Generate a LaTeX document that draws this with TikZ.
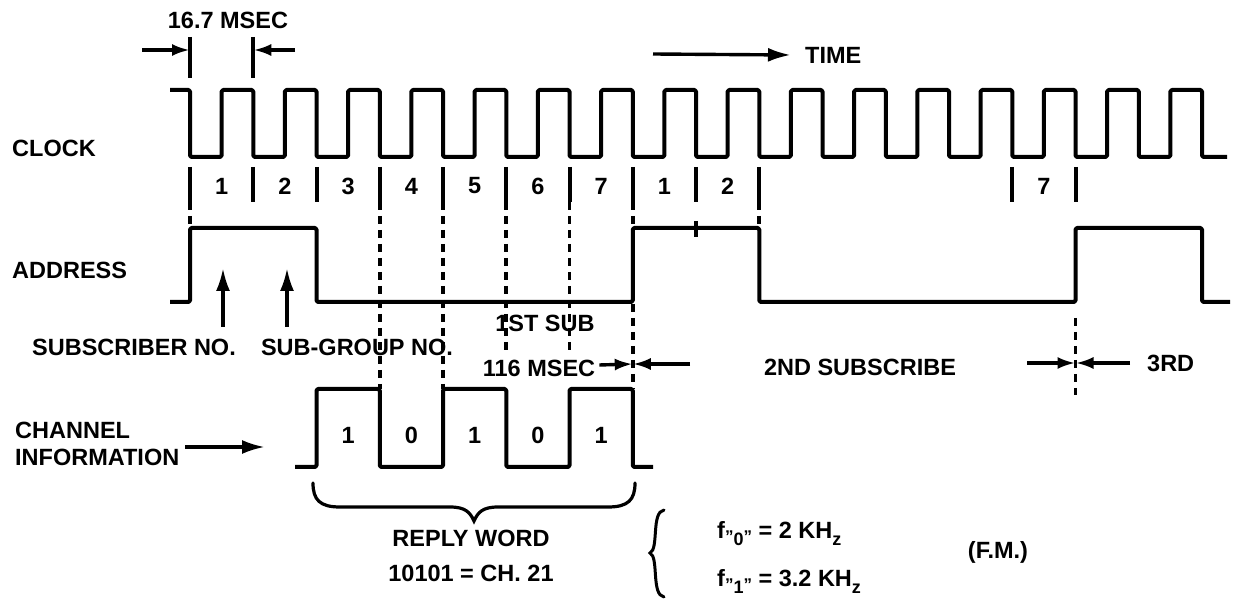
\documentclass[tikz,border=0pt]{standalone}
\usepackage{fontspec}
\setmainfont{Liberation Sans}
\usetikzlibrary{arrows.meta}
\begin{document}
\begin{tikzpicture}[x=1pt,y=-1pt,
  wave/.style={line width=4pt, line join=round, rounded corners=1.5pt},
  tickln/.style={line width=4pt},
  dashln/.style={line width=3.6pt, dash pattern=on 8pt off 6pt},
  arr/.style={line width=3.4pt, -{Latex[length=18pt,width=12pt]}},
  bigarr/.style={line width=3.4pt, -{Latex[length=23pt,width=14pt]}},
  lbl/.style={font=\bfseries\fontsize{23.5}{28}\selectfont, inner sep=0pt}
]
\useasboundingbox (0,0) rectangle (1235,601);

% ---------- CLOCK ----------
\draw[wave] (170,90) \foreach \k in {0,...,15}{ -- ({190+63.25*\k},90) -- ({190+63.25*\k},157) -- ({221.625+63.25*\k},157) -- ({221.625+63.25*\k},90)} -- (1202,90) -- (1202,157) -- (1227,157);
\foreach \k in {0,...,9,13,14}
  \draw[tickln] ({190+63.25*\k},167) -- ({190+63.25*\k},202);
\foreach \k/\n in {0/1,1/2,2/3,3/4,4/5,5/6,6/7,7/1,8/2,13/7}
  \node[lbl] (slot\k) at ({221.625+63.25*\k},186) {\n};

\node[lbl, anchor=west] (clock) at (12,148) {CLOCK};

% 16.7 MSEC
\node[lbl] (period) at (228,20) {16.7 MSEC};
\draw[tickln] (190,37) -- (190,78);
\draw[tickln] (253.25,37) -- (253.25,78);
\coordinate (pl0) at (142,50); \coordinate (pl1) at (190,50);
\coordinate (pr0) at (295,50); \coordinate (pr1) at (253.25,50);
\draw[arr] (pl0) -- (pl1);
\draw[arr] (pr0) -- (pr1);

% TIME
\node[lbl, anchor=west] (time) at (805,55) {TIME};
\coordinate (t0) at (653,54);
\draw[bigarr] (t0) -- ([xshift=-14pt]time.west);

% ---------- ADDRESS ----------
\node[lbl, anchor=west] (address) at (12,270) {ADDRESS};
\draw[wave] (170,302) -- (190,302) -- (190,228) -- (316.5,228) -- (316.5,302) -- (632.75,302) -- (632.75,228) -- (759.25,228) -- (759.25,302) -- (1075.5,302) -- (1075.5,228) -- (1202,228) -- (1202,302) -- (1230,302);
\draw[tickln] (696,221) -- (696,237);

% dashed alignment lines
\draw[dashln] (190,202) -- (190,228);
\draw[dashln] (379.75,202) -- (379.75,389);
\draw[dashln] (443,202) -- (443,389);
\draw[dashln] (506.25,202) -- (506.25,352);
\draw[dashln] (569.5,202) -- (569.5,352);
\draw[dashln] (632.75,202) -- (632.75,228);
\draw[dashln] (632.75,304) -- (632.75,389);
\draw[dashln] (759.25,202) -- (759.25,228);
\draw[dashln] (1075.5,318) -- (1075.5,395);

% labels under address
\node[lbl] (subno) at (134,347) {SUBSCRIBER NO.};
\node[lbl] (subgrp) at (357,347) {SUB-GROUP NO.};
\coordinate (u1) at (223,327); \coordinate (u1t) at (223,268);
\coordinate (u2) at (287,327); \coordinate (u2t) at (287,268);
\draw[bigarr] (u1) -- (u1t);
\draw[bigarr] (u2) -- (u2t);

\node[lbl] (first) at (545,323) {1ST SUB};
\node[lbl] (msec) at (539,368) {116 MSEC};
\coordinate (m0) at (632.75,364);
\coordinate (m1) at (690,364);
\draw[arr] (msec.east) ++(4,-3) coordinate (m2) -- (m0);
\draw[arr] (m1) -- (m0);

\node[lbl] (second) at (860,367) {2ND SUBSCRIBE};
\node[lbl, anchor=west] (third) at (1147,363) {3RD};
\coordinate (r0) at (1027,363); \coordinate (r1) at (1075.5,363); \coordinate (r2) at (1130,363);
\draw[arr] (r0) -- (r1);
\draw[arr] (r2) -- (r1);

% ---------- CHANNEL ----------
\node[lbl, anchor=west] (chan) at (15,430) {CHANNEL};
\node[lbl, anchor=west] (info) at (15,457) {INFORMATION};
\coordinate (ci) at (265,447);
\draw[bigarr] (info.east) ++(6,-10) coordinate (c0) -- (ci);
\draw[wave] (295,467) -- (316.5,467) -- (316.5,389) -- (379.75,389) -- (379.75,467) -- (443,467) -- (443,389) -- (506.25,389) -- (506.25,467) -- (569.5,467) -- (569.5,389) -- (632.75,389) -- (632.75,467) -- (653,467);
\foreach \x/\b [count=\i] in {348.1/1,411.4/0,474.6/1,537.9/0,601.1/1}
  \node[lbl] (bit\i) at (\x,435) {\b};

% brace under reply word
\draw[line width=3.2pt, line cap=round] (313,483) .. controls (313,500) and (320,507) .. (340,507) -- (450,507) .. controls (465,507) and (470,512) .. (474,521) .. controls (478,512) and (483,507) .. (498,507) -- (608,507) .. controls (628,507) and (635,500) .. (635,483);
\node[lbl] (reply) at (471,538) {REPLY WORD};
\node[lbl] (ch21) at (471,573) {10101 = CH. 21};

% formula brace
\draw[line width=3pt, line cap=round] (664,510) .. controls (651,512) and (659,549) .. (650,553) .. controls (659,557) and (651,595) .. (664,597);

\node[lbl, anchor=base west] (f0) at (717,538) {f\raisebox{-4pt}{\fontsize{17}{17}\selectfont ”}\raisebox{-7pt}{\fontsize{18}{18}\selectfont 0}\raisebox{-4pt}{\fontsize{17}{17}\selectfont ”} = 2 KH\raisebox{-7pt}{\fontsize{18}{18}\selectfont z}};
\node[lbl, anchor=base west] (f1) at (717,586) {f\raisebox{-4pt}{\fontsize{17}{17}\selectfont ”}\raisebox{-7pt}{\fontsize{18}{18}\selectfont 1}\raisebox{-4pt}{\fontsize{17}{17}\selectfont ”} = 3.2 KH\raisebox{-7pt}{\fontsize{18}{18}\selectfont z}};
\node[lbl] (fm) at (998,552) {(F.M.)};
\end{tikzpicture}
\end{document}
